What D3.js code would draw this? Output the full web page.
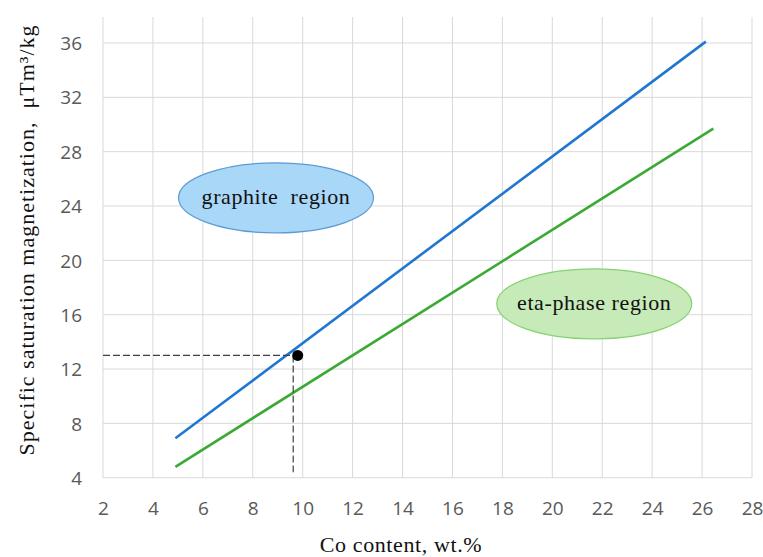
<!DOCTYPE html>
<html><head><meta charset="utf-8">
<script src="https://cdn.jsdelivr.net/npm/d3@7"></script>
<style>body{margin:0;background:#fff}</style>
</head><body>
<svg id="c" width="763" height="557"></svg>
<script>
const xTicks = [2,4,6,8,10,12,14,16,18,20,22,24,26,28];
const yTicks = [4,8,12,16,20,24,28,32,36];
const blueLine = [[4.9,6.9],[26.15,36.1]];
const greenLine = [[4.9,4.8],[26.45,29.7]];
const point = [9.8,13.0];
const dashH = [[2,13.0],[9.62,13.0]];
const dashV = [[9.62,13.0],[9.62,4.4]];
const regions = [
  {label:"graphite  region", cx:8.93, cy:24.6, fill:"#a9d7f8", stroke:"#5b9bd5"},
  {label:"eta-phase region", cx:21.68, cy:16.8, fill:"#c6eab8", stroke:"#86d272"}
];

const svg = d3.select("#c");
const x = d3.scaleLinear().domain([2,28]).range([103,752]);
const y = d3.scaleLinear().domain([4,36]).range([477.7,43]);
const yTop = 17;
const serif = "Liberation Serif, serif";

// grid
svg.append("g").selectAll("line").data(xTicks).join("line")
  .attr("x1",d=>x(d)).attr("x2",d=>x(d)).attr("y1",yTop).attr("y2",y(4))
  .attr("stroke","#d9d9d9").attr("stroke-width",1);
svg.append("g").selectAll("line").data(yTicks).join("line")
  .attr("x1",x(2)).attr("x2",x(28)).attr("y1",d=>y(d)).attr("y2",d=>y(d))
  .attr("stroke","#d9d9d9").attr("stroke-width",1);

// axes labels
const xAxis = d3.axisBottom(x).tickValues(xTicks).tickSize(0).tickPadding(0);
const gx = svg.append("g").attr("transform",`translate(0,${y(4)})`).call(xAxis);
gx.select(".domain").remove();
gx.selectAll("text").attr("dy",null).attr("y",37)
  .attr("font-family","Open Sans, sans-serif").attr("font-size",19).attr("fill","#595959");

const yAxis = d3.axisLeft(y).tickValues(yTicks).tickSize(0).tickPadding(0);
const gy = svg.append("g").attr("transform",`translate(82,0)`).call(yAxis);
gy.select(".domain").remove();
gy.selectAll("text").attr("dy","0.35em").attr("x",0)
  .attr("font-family","Open Sans, sans-serif").attr("font-size",19).attr("fill","#595959");

// titles
svg.append("text").attr("x",401).attr("y",552).attr("text-anchor","middle")
  .attr("font-family",serif).attr("font-size",22).attr("letter-spacing",0.6).attr("fill","#111")
  .text("Co content, wt.%");
svg.append("text").attr("transform","translate(34,240) rotate(-90)").attr("text-anchor","middle")
  .attr("font-family",serif).attr("font-size",22).attr("letter-spacing",1).attr("fill","#111")
  .attr("xml:space","preserve")
  .text("Specific saturation magnetization,  μTm³/kg");

// regions
const rg = svg.append("g").selectAll("g").data(regions).join("g");
rg.append("ellipse").attr("cx",d=>x(d.cx)).attr("cy",d=>y(d.cy)).attr("rx",97.5).attr("ry",35)
  .attr("fill",d=>d.fill).attr("stroke",d=>d.stroke).attr("stroke-width",1.2);
rg.append("text").attr("x",d=>x(d.cx)).attr("y",d=>y(d.cy)).attr("dy","0.3em")
  .attr("text-anchor","middle").attr("xml:space","preserve")
  .attr("font-family",serif).attr("font-size",22).attr("letter-spacing",0.6).attr("fill","#111")
  .text(d=>d.label);

// lines
const line = d3.line().x(d=>x(d[0])).y(d=>y(d[1]));
svg.append("path").attr("d",line(blueLine)).attr("stroke","#1f77d0").attr("stroke-width",2.6).attr("fill","none");
svg.append("path").attr("d",line(greenLine)).attr("stroke","#3aaa35").attr("stroke-width",2.6).attr("fill","none");

// dashed guides
[dashH,dashV].forEach(p=>svg.append("path").attr("d",line(p)).attr("stroke","#404040")
  .attr("stroke-width",1.2).attr("stroke-dasharray","7,3").attr("fill","none"));

svg.append("circle").attr("cx",x(point[0])).attr("cy",y(point[1])).attr("r",5.5).attr("fill","#000");
</script>
</body></html>
